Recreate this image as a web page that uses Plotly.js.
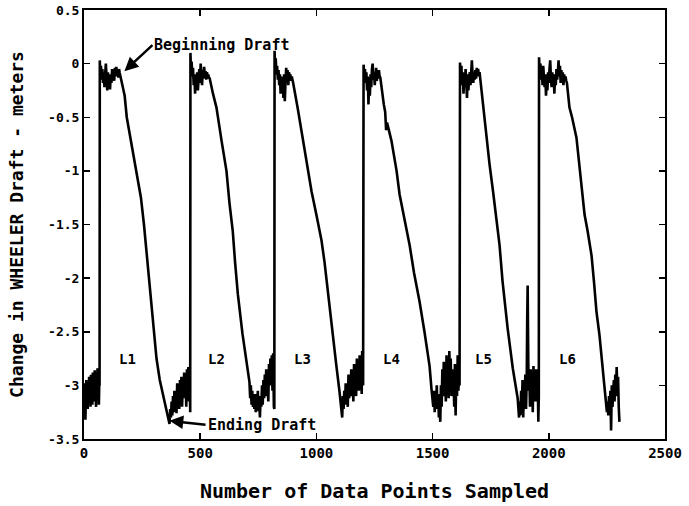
<!DOCTYPE html>
<html>
<head>
<meta charset="utf-8">
<script src="https://cdn.plot.ly/plotly-3.0.1.min.js"></script>
<style>html,body{margin:0;padding:0;background:#fff;}</style>
</head>
<body>
<div id="chart" style="width:689px;height:506px;"></div>
<script>
// ---- data: [data point index, change in draft (m)] ----
var cycle0 = [[0,-3.05],[2,-3.2],[4,-2.98],[6,-3.32],[8,-3.1],[10,-2.95],[12,-3.18],[14,-3.02],[16,-3.22],[18,-2.97],[20,-3.15],[22,-2.92],[24,-3.12],[26,-3.0],[28,-3.2],[30,-2.9],[32,-3.08],[34,-2.95],[36,-3.18],[38,-2.88],[40,-3.1],[42,-2.93],[44,-3.15],[46,-2.86],[48,-3.05],[50,-2.95],[52,-3.2],[54,-2.88],[56,-3.12],[58,-2.84],[60,-3.05],[62,-2.9],[64,-3.18],[66,-2.95],[67,-3.0]];

var cycle1 = [[68,0.03],[70,-0.1],[73,-0.02],[76,-0.15],[79,-0.05],[82,-0.18],[85,-0.08],[88,-0.22],[91,-0.1],[94,0.0],[97,-0.12],[100,-0.25],[103,-0.08],[106,-0.2],[109,-0.12],[112,-0.24],[115,-0.1],[118,-0.18],[121,-0.05],[124,-0.14],[127,-0.08],[130,-0.16],[133,-0.04],[136,-0.12],[139,-0.03],[142,-0.1],[145,-0.06],[148,-0.13],[151,-0.05],[153,-0.08],
 [165,-0.2],[175,-0.3],[184,-0.5],[188,-0.55],[192,-0.57],[210,-0.8],[228,-1.02],[245,-1.25],[258,-1.5],[270,-1.78],[282,-2.05],[296,-2.45],[312,-2.75],[326,-2.95],[345,-3.15],[362,-3.3],
 [368,-3.36],[371,-3.22],[374,-3.3],[377,-3.15],[380,-3.28],[383,-3.1],[386,-3.25],[389,-3.05],[392,-3.2],[395,-3.12],[398,-3.26],[401,-2.98],[404,-3.18],[407,-3.05],[410,-3.22],[413,-2.95],[416,-3.15],[419,-2.92],[422,-3.2],[425,-3.0],[428,-3.12],[431,-2.88],[434,-3.1],[437,-2.9],[440,-3.2],[443,-2.85],[446,-3.05],[449,-2.83],[452,-3.15],[455,-2.9],[457,-3.25]];

var cycle2 = [[458,0.1],[460,-0.05],[463,0.02],[466,-0.12],[469,-0.04],[472,-0.2],[475,-0.1],[478,-0.28],[481,-0.12],[484,-0.22],[487,-0.08],[490,-0.25],[493,-0.15],[496,-0.05],[499,-0.18],[502,0.0],[505,-0.1],[508,-0.2],[511,-0.06],[514,-0.14],[517,-0.03],[520,-0.12],[523,-0.07],[526,-0.15],[529,-0.08],[532,-0.12],[535,-0.1],[538,-0.14],[540,-0.13],
 [555,-0.28],[570,-0.41],[592,-0.72],[613,-1.0],[626,-1.3],[640,-1.56],[650,-1.85],[662,-2.15],[682,-2.52],[700,-2.8],
 [712,-2.97],[715,-3.12],[718,-3.0],[721,-3.18],[724,-3.05],[727,-3.2],[730,-3.1],[733,-3.22],[736,-3.08],[739,-3.25],[742,-3.12],[745,-3.2],[748,-3.05],[751,-3.24],[754,-3.15],[757,-3.3],[760,-3.1],[763,-3.2],[766,-3.0],[769,-3.18],[772,-2.95],[775,-3.12],[778,-2.9],[781,-3.1],[784,-2.85],[787,-3.05],[790,-2.92],[793,-3.15],[796,-2.8],[799,-3.0],[802,-2.75],[805,-2.95],[808,-2.72],[811,-3.05],[814,-2.7],[817,-3.2],[819,-3.22]];

var cycle3 = [[820,0.12],[822,0.0],[825,0.05],[828,-0.1],[831,-0.02],[834,-0.15],[837,-0.06],[840,-0.2],[843,-0.1],[846,-0.28],[849,-0.12],[852,-0.22],[855,-0.15],[858,-0.32],[861,-0.1],[864,-0.35],[867,-0.18],[870,-0.04],[873,-0.15],[876,-0.06],[879,-0.2],[882,-0.08],[885,-0.12],[888,-0.1],[891,-0.16],[894,-0.12],[897,-0.15],[900,-0.18],
 [919,-0.41],[936,-0.63],[957,-0.94],[979,-1.19],[1000,-1.41],[1022,-1.65],[1035,-1.85],[1050,-2.15],[1070,-2.49],[1085,-2.8],[1099,-3.05],
 [1108,-3.2],[1111,-3.3],[1114,-3.1],[1117,-3.22],[1120,-3.05],[1123,-3.18],[1126,-2.98],[1129,-3.15],[1132,-3.02],[1135,-3.2],[1138,-2.9],[1141,-3.12],[1144,-2.95],[1147,-3.1],[1150,-2.85],[1153,-3.05],[1156,-2.92],[1159,-3.15],[1162,-2.8],[1165,-3.0],[1168,-2.88],[1171,-3.1],[1174,-2.75],[1177,-2.98],[1180,-2.85],[1183,-3.05],[1186,-2.72],[1189,-2.95],[1192,-2.8],[1195,-3.08],[1197,-2.68],[1199,-2.9],[1201,-3.0]];

var cycle4 = [[1203,-0.01],[1206,-0.12],[1209,-0.05],[1212,-0.18],[1215,-0.08],[1218,-0.25],[1221,-0.12],[1224,-0.38],[1227,-0.15],[1230,-0.3],[1233,-0.1],[1236,-0.22],[1239,-0.05],[1242,0.0],[1245,-0.15],[1248,-0.08],[1251,-0.2],[1254,-0.1],[1257,-0.04],[1260,-0.16],[1263,-0.08],[1266,-0.14],[1269,-0.06],[1272,-0.12],[1275,-0.13],
 [1290,-0.38],[1296,-0.45],[1300,-0.62],[1304,-0.55],[1323,-0.72],[1345,-1.0],[1358,-1.22],[1379,-1.44],[1401,-1.69],[1420,-1.95],[1444,-2.22],[1465,-2.5],[1487,-2.82],[1495,-3.03],
 [1500,-3.12],[1503,-3.2],[1506,-3.05],[1509,-3.25],[1512,-3.1],[1515,-3.18],[1518,-3.0],[1521,-3.22],[1524,-3.08],[1527,-3.3],[1530,-3.15],[1533,-3.34],[1536,-3.0],[1539,-3.2],[1542,-2.85],[1545,-3.1],[1548,-2.78],[1551,-3.05],[1554,-2.9],[1557,-3.15],[1560,-2.72],[1563,-3.0],[1566,-2.8],[1569,-3.12],[1572,-2.68],[1575,-2.95],[1578,-2.75],[1581,-3.1],[1584,-2.85],[1587,-3.05],[1590,-2.92],[1593,-3.2],[1596,-2.8],[1599,-3.28],[1602,-2.9],[1605,-3.1],[1608,-2.72],[1611,-3.05],[1614,-2.85],[1616,-3.0]];

var cycle5 = [[1618,0.01],[1621,-0.1],[1624,-0.02],[1627,-0.2],[1630,-0.08],[1633,-0.28],[1636,-0.12],[1639,-0.22],[1642,-0.05],[1645,-0.18],[1648,-0.32],[1651,-0.1],[1654,-0.25],[1657,-0.15],[1660,-0.08],[1663,-0.2],[1666,-0.12],[1669,0.03],[1672,-0.1],[1675,-0.18],[1678,-0.08],[1681,-0.15],[1684,-0.06],[1687,-0.14],[1690,-0.04],[1693,-0.1],[1696,-0.05],[1699,-0.12],[1702,-0.08],[1705,-0.14],
 [1716,-0.41],[1731,-0.69],[1745,-0.94],[1760,-1.19],[1774,-1.44],[1788,-1.69],[1801,-2.03],[1823,-2.47],[1845,-2.84],[1866,-3.12],
 [1872,-3.3],[1875,-3.15],[1878,-3.28],[1881,-3.05],[1884,-3.2],[1887,-2.95],[1890,-3.3],[1893,-3.0],[1896,-3.12],[1899,-2.9],[1902,-3.22],[1905,-2.95],[1907,-2.4],[1909,-2.07],[1911,-2.6],[1913,-3.05],[1916,-2.88],[1919,-3.2],[1922,-2.85],[1925,-3.1],[1928,-2.9],[1931,-3.25],[1934,-2.82],[1937,-3.05],[1940,-2.88],[1943,-3.15],[1946,-2.85],[1949,-3.02],[1952,-2.9],[1955,-3.34],[1957,-3.1]];

var cycle6 = [[1958,0.06],[1961,-0.08],[1964,0.0],[1967,-0.15],[1970,-0.05],[1973,-0.2],[1976,-0.02],[1979,-0.12],[1982,-0.22],[1985,-0.1],[1988,-0.3],[1991,-0.15],[1994,-0.25],[1997,-0.08],[2000,-0.18],[2003,-0.05],[2006,0.03],[2009,-0.12],[2012,-0.22],[2015,-0.08],[2018,-0.2],[2021,-0.1],[2024,-0.28],[2027,-0.12],[2030,-0.2],[2033,-0.05],[2036,-0.15],[2039,-0.08],[2042,0.03],[2045,-0.12],[2048,-0.02],[2051,-0.18],[2054,-0.06],[2057,-0.15],[2060,-0.08],[2063,-0.2],[2066,-0.1],[2069,-0.14],[2072,-0.12],[2075,-0.16],[2078,-0.18],
 [2089,-0.41],[2100,-0.5],[2119,-0.69],[2132,-0.94],[2145,-1.19],[2154,-1.41],[2167,-1.56],[2184,-1.79],[2195,-2.05],[2205,-2.31],[2218,-2.53],[2231,-2.84],[2244,-3.15],
 [2250,-3.25],[2253,-3.15],[2256,-3.28],[2259,-3.1],[2262,-3.22],[2265,-3.05],[2268,-3.42],[2271,-3.0],[2274,-3.2],[2277,-3.08],[2280,-2.95],[2283,-3.15],[2286,-2.9],[2289,-3.1],[2292,-2.83],[2295,-3.05],[2298,-2.92],[2301,-3.2],[2304,-3.34]];

var loadLabels = ['L1','L2','L3','L4','L5','L6'];
var loadLabelX = [187, 570, 941, 1323, 1719, 2081];
var loadLabelY = [-2.75, -2.75, -2.75, -2.75, -2.75, -2.75];

var xTickVals = [0, 500, 1000, 1500, 2000, 2500];
var xTickText = ['0', '500', '1000', '1500', '2000', '2500'];
var yTickVals = [0.5, 0, -0.5, -1, -1.5, -2, -2.5, -3, -3.5];
var yTickText = ['0.5', '0', '-0.5', '-1', '-1.5', '-2', '-2.5', '-3', '-3.5'];

var beginDraftPoint = [174, -0.07];
var endDraftPoint = [368, -3.33];

// ---- build ----
var all = [].concat(cycle0, cycle1, cycle2, cycle3, cycle4, cycle5, cycle6);
var xs = all.map(function(p){return p[0];});
var ys = all.map(function(p){return p[1];});

var MONO = '"DejaVu Sans Mono", "Liberation Mono", monospace';

var trace = {
  x: xs, y: ys, type: 'scatter', mode: 'lines',
  line: {color: '#000', width: 2.6},
  hoverinfo: 'skip'
};

var annotations = loadLabels.map(function(t, i){
  return {x: loadLabelX[i], y: loadLabelY[i], xref: 'x', yref: 'y', text: t,
    showarrow: false, font: {family: MONO, size: 14, color: '#000', weight: 700}};
});
annotations.push({
  x: beginDraftPoint[0], y: beginDraftPoint[1], xref: 'x', yref: 'y',
  text: 'Beginning Draft', showarrow: true, arrowhead: 2, arrowsize: 1.1, arrowwidth: 2.5,
  arrowcolor: '#000', ax: 28, ay: -26, xanchor: 'left', yanchor: 'middle',
  font: {family: MONO, size: 15, color: '#000', weight: 700}
});
annotations.push({
  x: endDraftPoint[0], y: endDraftPoint[1], xref: 'x', yref: 'y',
  text: 'Ending Draft', showarrow: true, arrowhead: 2, arrowsize: 1.1, arrowwidth: 2.5,
  arrowcolor: '#000', ax: 36, ay: 4, xanchor: 'left', yanchor: 'middle',
  font: {family: MONO, size: 15, color: '#000', weight: 700}
});

var layout = {
  width: 689, height: 506,
  margin: {l: 84, r: 24, t: 10, b: 67},
  paper_bgcolor: '#fff', plot_bgcolor: '#fff',
  showlegend: false,
  xaxis: {
    range: [0, 2500], tickvals: xTickVals, ticktext: xTickText,
    ticks: 'inside', ticklen: 6, tickwidth: 1.5, tickcolor: '#000',
    showline: true, linewidth: 2, linecolor: '#000', mirror: 'ticks',
    showgrid: false, zeroline: false,
    tickfont: {family: MONO, size: 14, color: '#000', weight: 700},
    title: {text: 'Number of Data Points Sampled', standoff: 24,
      font: {family: MONO, size: 20, color: '#000', weight: 700}}
  },
  yaxis: {
    range: [-3.5, 0.5], tickvals: yTickVals, ticktext: yTickText,
    ticks: 'inside', ticklen: 6, tickwidth: 1.5, tickcolor: '#000',
    showline: true, linewidth: 2, linecolor: '#000', mirror: 'ticks',
    showgrid: false, zeroline: false,
    tickfont: {family: MONO, size: 13, color: '#000', weight: 700},
    title: {text: 'Change in WHEELER Draft - meters', standoff: 20,
      font: {family: MONO, size: 18, color: '#000', weight: 700}}
  },
  annotations: annotations
};

Plotly.newPlot('chart', [trace], layout, {displayModeBar: false, staticPlot: true});
</script>
</body>
</html>
